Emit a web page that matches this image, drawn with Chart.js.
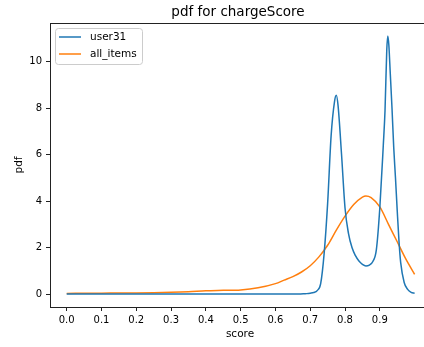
<!DOCTYPE html>
<html>
<head>
<meta charset="utf-8">
<script src="https://cdn.jsdelivr.net/npm/chart.js@4.4.1/dist/chart.umd.min.js"></script>
<style>
  html, body { margin: 0; padding: 0; background: #fff; }
  #wrap { width: 424px; height: 347px; }
</style>
</head>
<body>
<div id="wrap"><canvas id="grafico"></canvas></div>
<script>
// dados
const userX = [0, 0.1, 0.2, 0.3, 0.4, 0.5, 0.6, 0.65, 0.66, 0.67, 0.68, 0.69, 0.70, 0.71, 0.72, 0.73, 0.74, 0.75, 0.76, 0.77, 0.775, 0.78, 0.79, 0.80, 0.81, 0.82, 0.83, 0.84, 0.85, 0.86, 0.87, 0.88, 0.89, 0.90, 0.91, 0.915, 0.92, 0.923, 0.926, 0.93, 0.935, 0.94, 0.945, 0.95, 0.955, 0.96, 0.97, 0.98, 0.99, 1.00];
const userY = [0, 0, 0, 0, 0, 0, 0, 0, 0.003, 0.006, 0.01, 0.02, 0.04, 0.07, 0.15, 0.45, 1.75, 3.9, 6.8, 8.3, 8.55, 8.1, 6.0, 3.7, 2.6, 2.0, 1.65, 1.42, 1.28, 1.21, 1.25, 1.4, 1.9, 3.7, 6.4, 7.9, 10.5, 11.1, 10.7, 9.5, 8.0, 6.3, 5.0, 3.6, 2.3, 1.35, 0.5, 0.2, 0.07, 0.04];

const allX = [0, 0.05, 0.1, 0.15, 0.2, 0.25, 0.3, 0.35, 0.4, 0.45, 0.5, 0.55, 0.6, 0.625, 0.65, 0.675, 0.7, 0.725, 0.75, 0.775, 0.8, 0.825, 0.85, 0.86, 0.875, 0.9, 0.925, 0.95, 0.975, 1.0];
const allY = [0.03, 0.035, 0.04, 0.045, 0.05, 0.06, 0.075, 0.1, 0.14, 0.16, 0.18, 0.27, 0.45, 0.6, 0.75, 0.95, 1.22, 1.6, 2.1, 2.75, 3.35, 3.85, 4.17, 4.22, 4.15, 3.75, 3.0, 2.25, 1.5, 0.85];

const xTicks = [0, 0.1, 0.2, 0.3, 0.4, 0.5, 0.6, 0.7, 0.8, 0.9];
const yTicks = [0, 2, 4, 6, 8, 10];

const fonte = "DejaVu Sans";
const corEixo = "#222";

// plugin para título, legenda interna e rótulos dos eixos (estilo matplotlib)
const extras = {
  id: "extras",
  afterDraw(chart) {
    const ctx = chart.ctx;
    const a = chart.chartArea;
    ctx.save();
    // borda de cima
    ctx.strokeStyle = corEixo;
    ctx.lineWidth = 1;
    ctx.beginPath();
    ctx.moveTo(a.left, a.top + 0.5);
    ctx.lineTo(a.right, a.top + 0.5);
    ctx.stroke();

    // título
    ctx.fillStyle = "#000";
    ctx.font = "13.5px '" + fonte + "'";
    ctx.textAlign = "center";
    ctx.textBaseline = "middle";
    ctx.fillText("pdf for chargeScore", 238, 12);

    // rótulos dos eixos
    ctx.font = "10.5px '" + fonte + "'";
    ctx.fillText("score", 240, 334);
    ctx.save();
    ctx.translate(19, 165);
    ctx.rotate(-Math.PI / 2);
    ctx.fillText("pdf", 0, 0);
    ctx.restore();

    // legenda
    const lx = a.left + 5, ly = a.top + 5, lw = 87, lh = 36;
    ctx.fillStyle = "rgba(255,255,255,0.8)";
    ctx.strokeStyle = "#ccc";
    ctx.lineWidth = 1;
    ctx.beginPath();
    ctx.roundRect(lx + 0.5, ly + 0.5, lw, lh, 3);
    ctx.fill();
    ctx.stroke();
    ctx.textAlign = "left";
    chart.data.datasets.forEach((ds, i) => {
      const y = ly + 9 + i * 17;
      ctx.strokeStyle = ds.borderColor;
      ctx.lineWidth = 1.5;
      ctx.beginPath();
      ctx.moveTo(lx + 4, y);
      ctx.lineTo(lx + 26, y);
      ctx.stroke();
      ctx.fillStyle = "#000";
      ctx.fillText(ds.label, lx + 35, y + 0.5);
    });
    ctx.restore();
  }
};

new Chart(document.getElementById("grafico"), {
  type: "line",
  data: {
    datasets: [{
      label: "user31",
      data: userX.map((x, i) => ({ x: x, y: userY[i] })),
      borderColor: "#1f77b4",
      borderWidth: 1.5,
      pointRadius: 0,
      cubicInterpolationMode: "monotone",
      fill: false
    }, {
      label: "all_items",
      data: allX.map((x, i) => ({ x: x, y: allY[i] })),
      borderColor: "#ff7f0e",
      borderWidth: 1.5,
      pointRadius: 0,
      cubicInterpolationMode: "monotone",
      fill: false
    }]
  },
  options: {
    responsive: true,
    maintainAspectRatio: false,
    animation: false,
    events: [],
    layout: { padding: { top: 23, right: 0, left: 0, bottom: 0 } },
    plugins: {
      legend: { display: false },
      title: { display: false },
      tooltip: { enabled: false }
    },
    scales: {
      x: {
        type: "linear",
        min: -0.048,
        max: 1.027,
        afterFit: s => { s.height = 40; },
        afterBuildTicks: s => { s.ticks = xTicks.map(v => ({ value: v })); },
        grid: { drawOnChartArea: false, tickLength: 4, color: corEixo },
        border: { display: true, color: corEixo, width: 1 },
        ticks: {
          color: "#000",
          padding: 3,
          maxRotation: 0,
          autoSkip: false,
          font: { family: fonte, size: 10 },
          callback: v => v.toFixed(1)
        }
      },
      y: {
        min: -0.555,
        max: 11.655,
        afterFit: s => { s.width = 50; },
        afterBuildTicks: s => { s.ticks = yTicks.map(v => ({ value: v })); },
        grid: { drawOnChartArea: false, tickLength: 4, color: corEixo },
        border: { display: true, color: corEixo, width: 1 },
        ticks: {
          color: "#000",
          padding: 4,
          font: { family: fonte, size: 10 },
          callback: v => v.toString()
        }
      }
    }
  },
  plugins: [extras]
});
</script>
</body>
</html>
